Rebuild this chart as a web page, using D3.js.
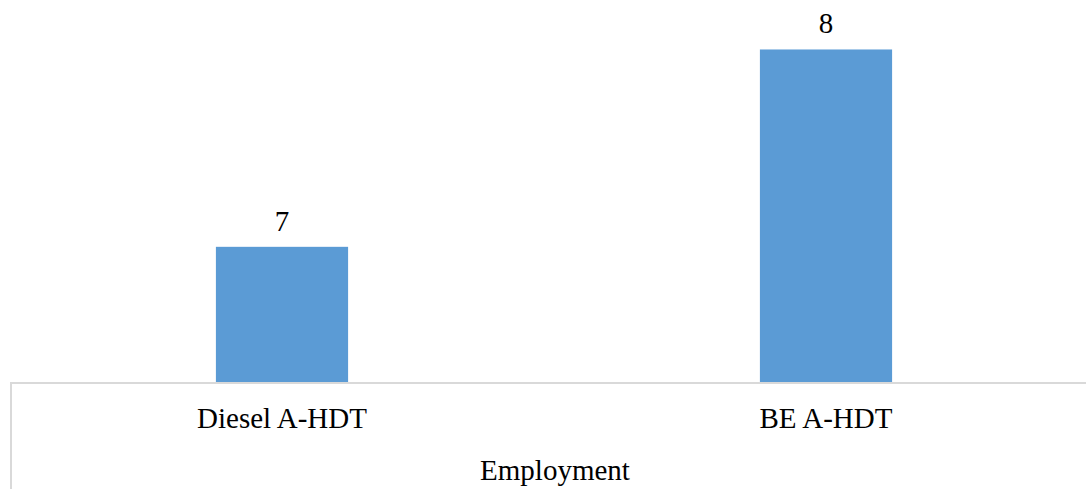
<!DOCTYPE html>
<html>
<head>
<meta charset="utf-8">
<script src="https://cdn.jsdelivr.net/npm/d3@7"></script>
<style>
  body { margin: 0; background: #fff; }
  text { font-family: "Liberation Serif", "Times New Roman", serif; fill: #000; }
</style>
</head>
<body>
<svg id="chart" width="1086" height="489"></svg>
<script>
var categories = ["Diesel A-HDT", "BE A-HDT"];
var values = [7, 8];
var groupLabel = "Employment";

var svg = d3.select("#chart"),
    width = +svg.attr("width"),
    height = +svg.attr("height");

var baseY = 383; // category axis line

// x: bands spread a bit past the right edge, like the source
var x = d3.scaleBand()
    .domain(categories)
    .range([10, 1098])
    .paddingInner(0.757)
    .paddingOuter(0.3785);

// value axis does not start at zero
var y = d3.scaleLinear().domain([6.31, 8.2]).range([baseY, 10]);

svg.selectAll("rect.bar")
    .data(values)
  .enter().append("rect")
    .attr("class", "bar")
    .attr("x", function(d, i) { return x(categories[i]); })
    .attr("y", function(d) { return y(d); })
    .attr("width", x.bandwidth())
    .attr("height", function(d) { return baseY - y(d); })
    .attr("fill", "#5b9bd5");

// data labels
svg.selectAll("text.val")
    .data(values)
  .enter().append("text")
    .attr("class", "val")
    .attr("x", function(d, i) { return x(categories[i]) + x.bandwidth() / 2; })
    .attr("y", function(d) { return y(d) - 16; })
    .attr("text-anchor", "middle")
    .style("font-size", "29px")
    .text(function(d) { return d3.format("d")(d); });

// axis lines
svg.append("line")
    .attr("x1", 10).attr("x2", width)
    .attr("y1", baseY).attr("y2", baseY)
    .attr("stroke", "#d9d9d9").attr("stroke-width", 2);
svg.append("line")
    .attr("x1", 11).attr("x2", 11)
    .attr("y1", baseY).attr("y2", height)
    .attr("stroke", "#d9d9d9").attr("stroke-width", 2);

// category labels
svg.selectAll("text.cat")
    .data(categories)
  .enter().append("text")
    .attr("class", "cat")
    .attr("x", function(d) { return x(d) + x.bandwidth() / 2; })
    .attr("y", 428)
    .attr("text-anchor", "middle")
    .style("font-size", "29px")
    .text(function(d) { return d; });

svg.append("text")
    .attr("x", 555)
    .attr("y", 480)
    .attr("text-anchor", "middle")
    .style("font-size", "29px")
    .text(groupLabel);
</script>
</body>
</html>
